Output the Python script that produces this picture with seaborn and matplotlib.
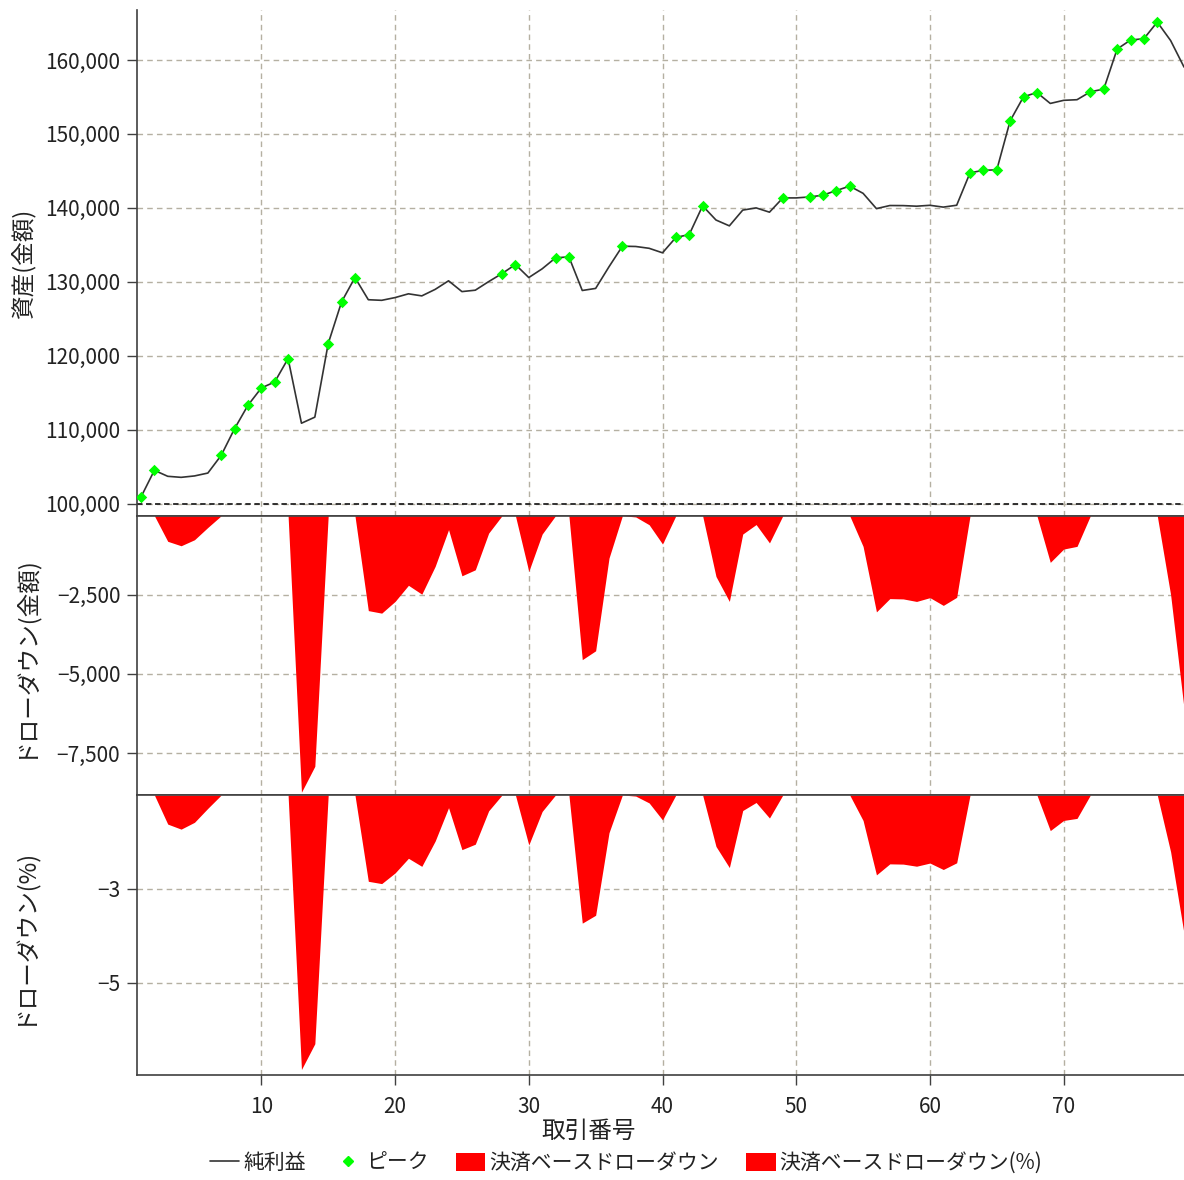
import matplotlib
matplotlib.use("Agg")
import matplotlib.pyplot as plt
import matplotlib.ticker as mticker
from matplotlib.lines import Line2D
from matplotlib.patches import Patch
import numpy as np
import pandas as pd
import seaborn as sns

# trade numbers and net equity after each trade
trade_no = list(range(1, 80))
equity = [
    100900, 104510, 103700, 103560, 103750, 104140, 106540, 110150, 113310, 115650,
    116460, 119620, 110880, 111700, 121650, 127290, 130580, 127580, 127500, 127870,
    128380, 128100, 128980, 130140, 128680, 128870, 130030, 131120, 132340, 130580,
    131760, 133240, 133380, 128830, 129110, 132040, 134820, 134780, 134535, 133925,
    136000, 136400, 140280, 138360, 137570, 139700, 140000, 139420, 141350, 141350,
    141480, 141720, 142350, 142940, 141970, 139900, 140320, 140310, 140230, 140350,
    140105, 140360, 144750, 145080, 145150, 151780, 155030, 155600, 154125, 154546,
    154631, 155700, 156070, 161480, 162700, 162880, 165130, 162630, 159050,
]
initial_capital = 100000

y_ticks_equity = [100000, 110000, 120000, 130000, 140000, 150000, 160000]
y_ticks_dd = [-2500, -5000, -7500]
y_ticks_pct = [-2.5, -5.0]
x_ticks = [10, 20, 30, 40, 50, 60, 70]

labels = ["純利益", "ピーク", "決済ベースドローダウン", "決済ベースドローダウン(%)"]

df = pd.DataFrame({"trade": trade_no, "equity": equity})
df["peak"] = df["equity"].cummax()
df["dd"] = df["equity"] - df["peak"]
df["dd_pct"] = df["dd"] / df["peak"] * 100
# new highs get a marker
is_peak = df["equity"] > df["equity"].shift(1).cummax().fillna(-np.inf)
peaks = df[is_peak]

sns.set_style("white")
plt.rcParams["font.family"] = ["Noto Sans CJK JP", "DejaVu Sans"]
plt.rcParams["axes.unicode_minus"] = True

grid_color = "#b5b0a2"
spine_color = "#404040"
text_color = "#222222"

fig, (ax1, ax2, ax3) = plt.subplots(
    3, 1, figsize=(11.84, 11.80), dpi=100, sharex=True,
    gridspec_kw={"height_ratios": [505.7, 279.3, 280]})
fig.subplots_adjust(left=0.1157, right=1.0, top=0.9915, bottom=0.089, hspace=0)

# top panel: equity curve
sns.lineplot(data=df, x="trade", y="equity", ax=ax1, color="#333333", linewidth=1.2)
sns.scatterplot(data=peaks, x="trade", y="equity", ax=ax1, color="#00ff00",
                marker="D", s=34, linewidth=0, zorder=5)
ax1.axhline(initial_capital, color="#222222", linestyle=(0, (3, 2)), linewidth=1.3)
rng = df["equity"].max() - initial_capital
ax1.set_ylim(initial_capital - 0.025 * rng, df["equity"].max() + 0.025 * rng)
ax1.set_yticks(y_ticks_equity)
ax1.yaxis.set_major_formatter(mticker.FuncFormatter(lambda v, p: f"{v:,.0f}"))
ax1.set_ylabel("資産(金額)")

# middle panel: drawdown amount
ax2.fill_between(df["trade"], df["dd"], 0, color="#ff0000", linewidth=0)
ax2.set_ylim(df["dd"].min() * 1.01, 0)
ax2.set_yticks(y_ticks_dd)
ax2.yaxis.set_major_formatter(
    mticker.FuncFormatter(lambda v, p: f"\u2212{abs(v):,.0f}"))
ax2.set_ylabel("ドローダウン(金額)")

# bottom panel: drawdown percent
ax3.fill_between(df["trade"], df["dd_pct"], 0, color="#ff0000", linewidth=0)
ax3.set_ylim(df["dd_pct"].min() * 1.02, 0)
ax3.set_yticks(y_ticks_pct)
ax3.yaxis.set_major_formatter(
    mticker.FuncFormatter(lambda v, p: f"\u2212{int(abs(v) + 0.5)}"))
ax3.set_ylabel("ドローダウン(%)")

ax3.set_xlim(0.7, 79)
ax3.set_xticks(x_ticks)
ax3.set_xlabel("取引番号", fontsize=17, color=text_color)
ax3.xaxis.set_label_coords(0.431, -0.16)

for ax in (ax1, ax2, ax3):
    ax.grid(True, color=grid_color, linestyle=(0, (4, 3)), linewidth=1.0)
    ax.set_axisbelow(True)
    ax.tick_params(axis="y", direction="out", length=7, width=1.0,
                   color=spine_color, labelsize=15, labelcolor=text_color, pad=5,
                   left=True)
    ax.yaxis.label.set_size(17)
    ax.yaxis.label.set_color(text_color)
    ax.yaxis.set_label_coords(-0.097, 0.5)
    for side in ("left", "top", "bottom"):
        ax.spines[side].set_color(spine_color)
        ax.spines[side].set_linewidth(1.2)
    ax.spines["right"].set_visible(False)

ax1.spines["top"].set_visible(False)
ax1.set_xlabel("")
ax2.set_xlabel("")
for ax in (ax1, ax2):
    ax.tick_params(axis="x", bottom=False, labelbottom=False)
ax3.tick_params(axis="x", direction="out", length=7, width=1.0, bottom=True,
                color=spine_color, labelsize=15, labelcolor=text_color, pad=8)

handles = [
    Line2D([], [], color="#333333", linewidth=1.2),
    Line2D([], [], color="#00ff00", marker="D", linestyle="none", markersize=5),
    Patch(facecolor="#ff0000", edgecolor="none"),
    Patch(facecolor="#ff0000", edgecolor="none"),
]
fig.legend(handles, labels, loc="lower center", bbox_to_anchor=(0.529, -0.011),
           ncol=4, frameon=False, fontsize=15, handlelength=1.4, handleheight=1.0,
           handletextpad=0.2, columnspacing=1.3, labelcolor=text_color)

fig.savefig("out.png", dpi=100)
